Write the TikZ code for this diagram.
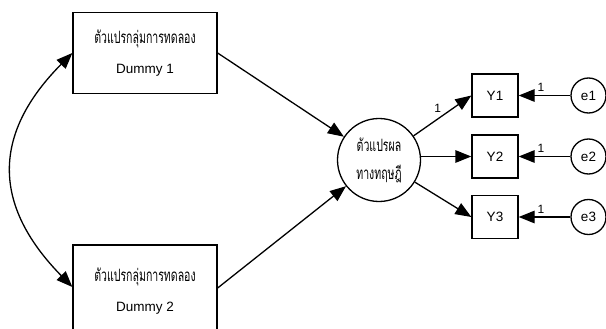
\documentclass[tikz,border=0pt]{standalone}
\usepackage{fontspec}
\setmainfont{Liberation Sans}
\newfontfamily\thaifont[Script=Thai, FakeStretch=0.62]{Loma}
\usetikzlibrary{arrows.meta}

\tikzset{
  tip/.tip={Triangle[length=16pt,width=12.5pt]},
  path/.style={line width=1.3pt, -tip},
  both/.style={line width=1.3pt, tip-tip},
  groupbox/.style={draw, line width=1.3pt, minimum width=144pt, align=center,
    font=\fontsize{13.5}{30}\selectfont},
  obsbox/.style={draw, line width=1.3pt, minimum width=46pt, minimum height=43pt,
    font=\fontsize{13.5}{15}\selectfont},
  latent/.style={draw, circle, line width=1.3pt, minimum size=83pt, inner sep=0pt,
    align=center, font=\fontsize{17}{28}\thaifont},
  errnode/.style={draw, circle, line width=1.3pt, minimum size=35pt, inner sep=0pt,
    font=\fontsize{13.5}{15}\selectfont},
  weight/.style={font=\fontsize{12}{13}\selectfont, inner sep=0pt}
}

\begin{document}
\begin{tikzpicture}[x=1pt, y=-1pt]
  \useasboundingbox (0,0) rectangle (606,329);

  % exogenous group variables
  \node[groupbox, minimum height=81pt] (d1) at (145,53)
    {{\fontsize{17}{30}\thaifont ตัวแปรกลุ่มการทดลอง}\\Dummy 1};
  \node[groupbox, minimum height=92pt] (d2) at (145,291)
    {{\fontsize{17}{30}\thaifont ตัวแปรกลุ่มการทดลอง}\\Dummy 2};

  % latent outcome
  \node[latent] (lat) at (379,160) {ตัวแปรผล\\ทางทฤษฎี};

  % indicators
  \node[obsbox] (y1) at (495,95.5) {Y1};
  \node[obsbox] (y2) at (495,156.5) {Y2};
  \node[obsbox] (y3) at (495,217) {Y3};

  % error terms
  \node[errnode] (e1) at (588.5,95.5) {e1};
  \node[errnode] (e2) at (588.5,156.5) {e2};
  \node[errnode] (e3) at (588.5,217) {e3};

  % covariance between the groups
  \draw[both] (d1.west) .. controls (-8,134) and (-8,205) .. ([yshift=4pt]d2.west);

  % structural paths
  \draw[path] (d1.east) -- (lat);
  \draw[path] ([yshift=3pt]d2.east) -- (lat);

  % loadings
  \draw[path] (lat) -- (y1.west) node[weight, pos=0.42, above=6pt] {1};
  \draw[path] (lat.east |- y2.west) -- (y2.west);
  \draw[path] (lat) -- (y3.west);

  % error paths
  \draw[path] (e1) -- (y1) node[weight, pos=0.57, above=3pt] {1};
  \draw[path] (e2) -- (y2) node[weight, pos=0.57, above=3pt] {1};
  \draw[path] (e3) -- (y3) node[weight, pos=0.57, above=3pt] {1};
\end{tikzpicture}
\end{document}
